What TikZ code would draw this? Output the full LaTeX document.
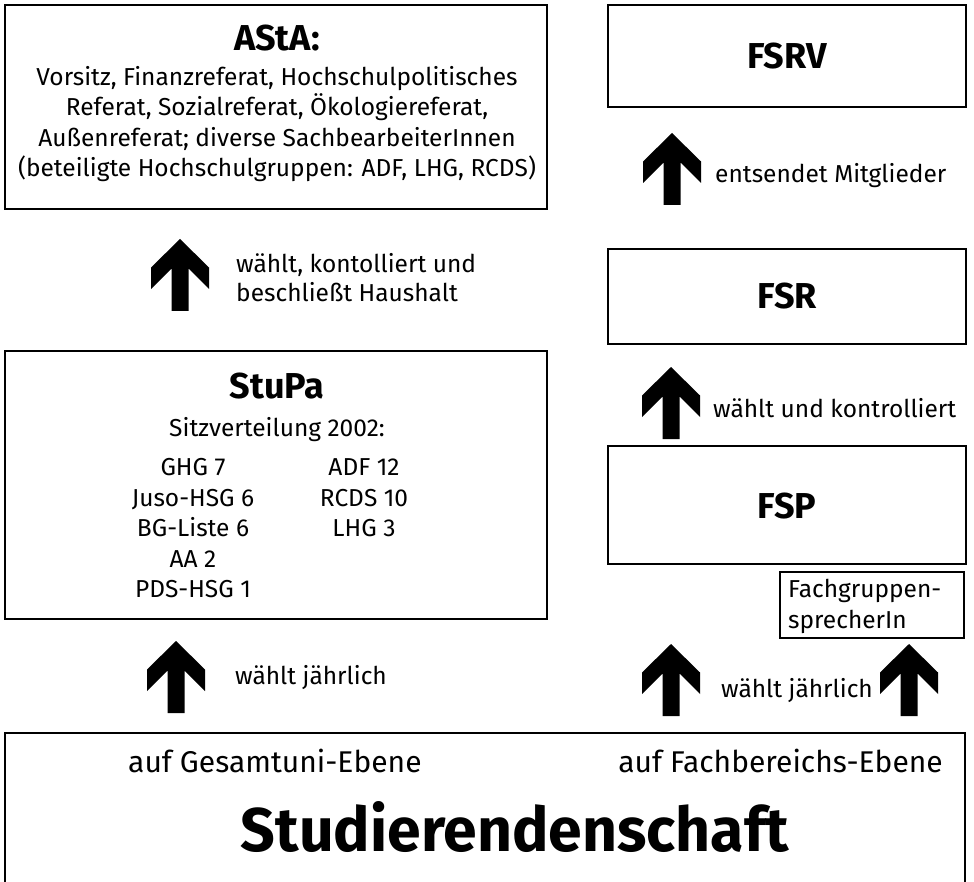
\documentclass[tikz,border=0pt]{standalone}
\usepackage{fontspec}
\usepackage{graphicx}
\setmainfont{Fira Sans}
\begin{document}
\begin{tikzpicture}[x=1pt,y=-1pt,
  box/.style={draw=black, line width=2.4pt, rectangle, anchor=north west, inner sep=0pt, outer sep=0pt},
  smallbox/.style={draw=black, line width=1.4pt, rectangle, anchor=north west, inner sep=0pt, outer sep=0pt},
  body/.style={inner sep=0pt, font=\fontsize{24.5}{30}\selectfont},
  ttl/.style={inner sep=0pt, font=\fontsize{36}{40}\selectfont\bfseries},
  low/.style={inner sep=0pt, font=\fontsize{30}{34}\selectfont},
  uparrow/.pic={\fill[black] (0,0) -- (-29,28.5) -- (-29,50) -- (-8.5,29.5) -- (-8.5,72)
      -- (8.5,72) -- (8.5,29.5) -- (29,50) -- (29,28.5) -- cycle;}
]
\useasboundingbox (0,0) rectangle (974,882);

% boxes
\node[box, minimum width=542pt, minimum height=204pt] (asta) at (5,5) {};
\node[box, minimum width=542pt, minimum height=268pt] (stupa) at (5,351) {};
\node[box, minimum width=358pt, minimum height=102pt] (fsrv) at (608,5) {};
\node[box, minimum width=358pt, minimum height=95pt] (fsr) at (608,249) {};
\node[box, minimum width=358pt, minimum height=118pt] (fsp) at (608,446) {};
\node[smallbox, minimum width=184pt, minimum height=66pt] (fgs) at (780,572) {};
\node[box, minimum width=960pt, minimum height=180pt] (stud) at (5,733) {};

% AStA text
\node[ttl, anchor=base] (astat) at (277,51) {AStA:};
\node[body, anchor=base] (a1) at (277,86) {Vorsitz, Finanzreferat, Hochschulpolitisches};
\node[body, anchor=base] (a2) at (277,116) {Referat, Sozialreferat, Ökologiereferat,};
\node[body, anchor=base] (a3) at (277,147) {Außenreferat; diverse SachbearbeiterInnen};
\node[body, anchor=base] (a4) at (277,177) {(beteiligte Hochschulgruppen: ADF, LHG, RCDS)};

% StuPa text
\node[ttl, anchor=base] (stupat) at (277,398) {StuPa};
\node[body, anchor=base] (sv) at (277,436) {Sitzverteilung 2002:};
\node[body, anchor=base] (c11) at (193,475) {GHG 7};
\node[body, anchor=base] (c12) at (193,506) {Juso-HSG 6};
\node[body, anchor=base] (c13) at (193,536) {BG-Liste 6};
\node[body, anchor=base] (c14) at (193,567) {AA 2};
\node[body, anchor=base] (c15) at (193,597) {PDS-HSG 1};
\node[body, anchor=base] (c21) at (364,475) {ADF 12};
\node[body, anchor=base] (c22) at (364,506) {RCDS 10};
\node[body, anchor=base] (c23) at (364,536) {LHG 3};

% right titles
\node[ttl, anchor=base] (fsrvt) at (787,69) {FSRV};
\node[ttl, anchor=base] (fsrt) at (787,309) {FSR};
\node[ttl, anchor=base] (fspt) at (787,518) {FSP};
\node[body, anchor=base west] (fg1) at (788,597) {Fachgruppen-};
\node[body, anchor=base west] (fg2) at (788,628) {sprecherIn};

% bottom
\node[low, anchor=base west] (gesamt) at (128,772) {auf Gesamtuni-Ebene};
\node[low, anchor=base east] (fach) at (943,772) {auf Fachbereichs-Ebene};
\node[inner sep=0pt, anchor=base] (studt) at (515,851) {\resizebox{548pt}{50pt}{\bfseries Studierendenschaft}};

% arrows
\pic at (180,239) {uparrow};
\pic at (176,641) {uparrow};
\pic at (672,133) {uparrow};
\pic at (671,367) {uparrow};
\pic at (671,644) {uparrow};
\pic at (909,644) {uparrow};

% arrow labels
\node[body, anchor=base west] (l1a) at (236,273) {wählt, kontolliert und};
\node[body, anchor=base west] (l1b) at (236,302) {beschließt Haushalt};
\node[body, anchor=base west] (l2) at (235,684) {wählt jährlich};
\node[body, anchor=base west] (l3) at (715,183) {entsendet Mitglieder};
\node[body, anchor=base west] (l4) at (713,417) {wählt und kontrolliert};
\node[body, anchor=base west] (l5) at (721,697) {wählt jährlich};
\end{tikzpicture}
\end{document}
